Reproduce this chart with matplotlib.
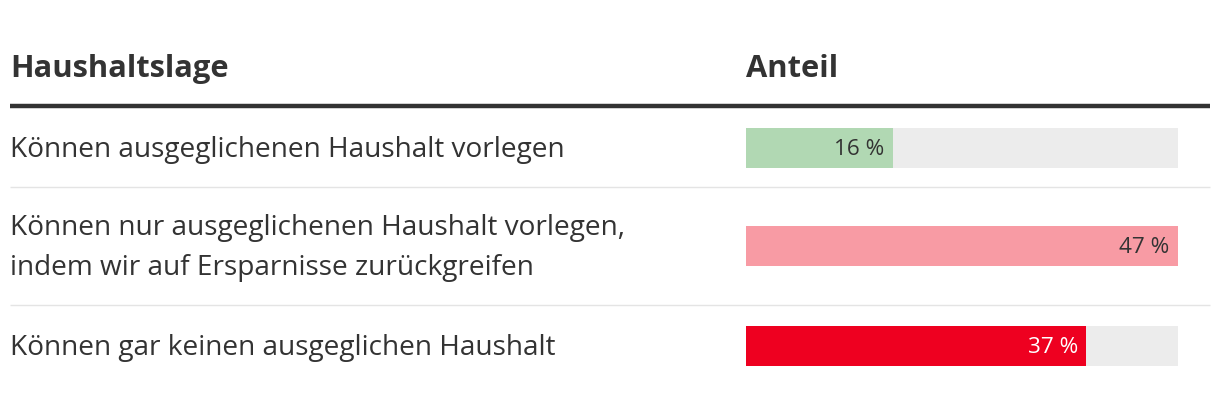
import matplotlib.pyplot as plt

# data
categories = [
    "Können ausgeglichenen Haushalt vorlegen",
    "Können nur ausgeglichenen Haushalt vorlegen,\nindem wir auf Ersparnisse zurückgreifen",
    "Können gar keinen ausgeglichen Haushalt",
]
shares = [16, 47, 37]
bar_colors = ["#b1d8b3", "#f89ba4", "#ee0020"]
label_colors = ["#333333", "#333333", "#ffffff"]
header_left = "Haushaltslage"
header_right = "Anteil"

W, H = 1220, 394
plt.rcParams['font.family'] = ['Open Sans', 'DejaVu Sans']

fig = plt.figure(figsize=(W / 100, H / 100), dpi=100)


def fx(px):
    return px / W


def fy(py):
    return 1 - py / H


# headers
fig.text(fx(10), fy(69), header_left, fontsize=22.2, fontweight='bold',
         color='#333333', va='center', ha='left')
fig.text(fx(746), fy(69), header_right, fontsize=22.2, fontweight='bold',
         color='#333333', va='center', ha='left')

# header rule and separators
fig.add_artist(plt.Line2D([fx(10), fx(1210)], [fy(105.5), fy(105.5)],
                          color='#333333', lw=3.2, solid_capstyle='butt',
                          transform=fig.transFigure))
for sy in [187, 305]:
    fig.add_artist(plt.Line2D([fx(10), fx(1210)], [fy(sy), fy(sy)],
                              color='#e4e4e4', lw=1, solid_capstyle='butt',
                              transform=fig.transFigure))

row_centers = [148, 246, 346]

# bar axes
x0, x1 = 746, 1178
ax = fig.add_axes([fx(x0), 0, (x1 - x0) / W, 1])
ax.set_xlim(0, max(shares))
ax.set_ylim(H, 0)
ax.axis('off')

ax.barh(row_centers, [max(shares)] * len(shares), height=40, color='#ececec')
ax.barh(row_centers, shares, height=40, color=bar_colors)
for yc, v, tc in zip(row_centers, shares, label_colors):
    ax.annotate(f"{v} %", xy=(v, yc), xytext=(-6, -1), textcoords='offset points',
                ha='right', va='center', fontsize=16.2, color=tc)

for yc, cat in zip(row_centers, categories):
    fig.text(fx(10), fy(yc + 2), cat, fontsize=20.2, color='#333333',
             va='center', ha='left', linespacing=1.56)

fig.savefig('out.png', dpi=100)
